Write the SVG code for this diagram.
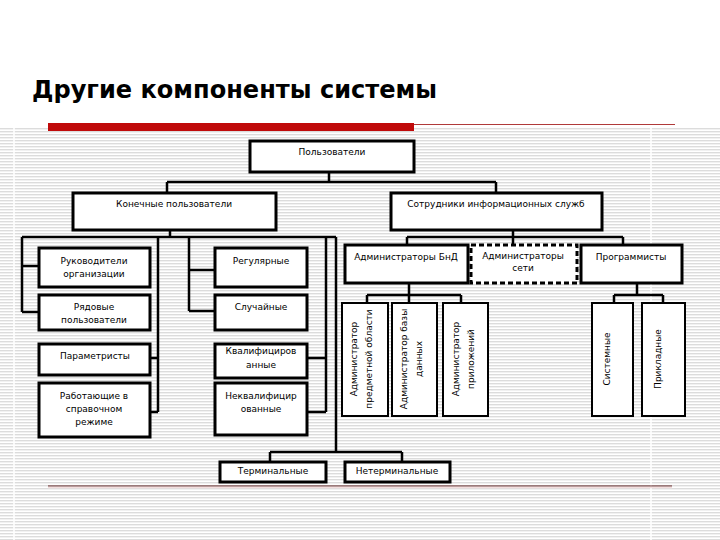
<svg xmlns="http://www.w3.org/2000/svg" width="720" height="540" viewBox="0 0 720 540">
<defs>
<pattern id="stripes" x="0" y="128" width="8" height="3" patternUnits="userSpaceOnUse">
<rect x="0" y="0" width="8" height="3" fill="#ffffff"/>
<rect x="0" y="0" width="8" height="1.4" fill="#dcdcdc"/>
</pattern>
<style>
.box{fill:#fff;stroke:#000;stroke-width:3}
.thin{fill:#fff;stroke:#000;stroke-width:2}
.dash{fill:#fff;stroke:#000;stroke-width:3;stroke-dasharray:5 3}
.lbl{font-family:"DejaVu Sans","Liberation Sans",sans-serif;font-size:9px;fill:#000;text-anchor:middle}
.conn{fill:none;stroke:#000;stroke-width:2.5}
</style>
</defs>
<rect x="0" y="0" width="720" height="540" fill="#fff"/>
<rect x="0" y="128" width="720" height="412" fill="url(#stripes)"/>
<line x1="14" y1="128" x2="14" y2="540" stroke="#fff" stroke-width="2" opacity="0.8"/>
<line x1="651" y1="128" x2="651" y2="540" stroke="#fff" stroke-width="2" opacity="0.8"/>
<text x="32" y="98" font-family="DejaVu Sans, Liberation Sans, sans-serif" font-weight="bold" font-size="24" textLength="405" lengthAdjust="spacingAndGlyphs" fill="#000">Другие компоненты системы</text>
<rect x="48" y="123" width="366" height="8" fill="#c00a0a"/>
<line x1="414" y1="124.5" x2="675" y2="124.5" stroke="#b03a3a" stroke-width="1"/>
<line x1="48" y1="486" x2="672" y2="486" stroke="#5a1818" stroke-width="1.2"/>
<line x1="48" y1="487.5" x2="672" y2="487.5" stroke="#f3dede" stroke-width="1.5"/>

<g id="connectors" class="conn">
<path d="M329,172 V182 M167,182 H496 M167,182 V193 M496,182 V193"/>
<path d="M170,230 V237 M22,237 H336 M22,237 V312 M22,266 H39 M22,312 H39"/>
<path d="M158,237 V412 M150,358 H158 M150,412 H158"/>
<path d="M189,237 V311 M189,270 H215 M189,311 H215"/>
<path d="M326,237 V412 M307,358 H326 M307,412 H326"/>
<path d="M336,237 V452 M270,452 H402 M270,452 V462 M402,452 V462"/>
<path d="M513,230 V245 M407,237 H623 M407,237 V245 M623,237 V245"/>
<path d="M409,283 V303 M367,295 H461 M367,295 V303 M461,295 V303"/>
<path d="M637,283 V295 M614,295 H663 M614,295 V303 M663,295 V303"/>
</g>

<g id="users"><rect class="box" x="250" y="141" width="164" height="31"/><text class="lbl" x="332" y="155">Пользователи</text></g>
<g id="end-users"><rect class="box" x="73" y="193" width="203" height="37"/><text class="lbl" x="174" y="207">Конечные пользователи</text></g>
<g id="is-staff"><rect class="box" x="391" y="193" width="211" height="37"/><text class="lbl" x="496" y="207">Сотрудники информационных служб</text></g>

<g id="managers"><rect class="box" x="39" y="248" width="111" height="39"/><text class="lbl" x="94" y="264">Руководители</text><text class="lbl" x="94" y="277">организации</text></g>
<g id="ordinary"><rect class="box" x="39" y="295" width="111" height="35"/><text class="lbl" x="94" y="310">Рядовые</text><text class="lbl" x="94" y="323">пользователи</text></g>
<g id="parametrists"><rect class="box" x="39" y="344" width="111" height="31"/><text class="lbl" x="95" y="359">Параметристы</text></g>
<g id="reference-mode"><rect class="box" x="39" y="383" width="111" height="54"/><text class="lbl" x="94" y="399">Работающие в</text><text class="lbl" x="94" y="412">справочном</text><text class="lbl" x="94" y="425">режиме</text></g>

<g id="regular"><rect class="box" x="215" y="248" width="92" height="39"/><text class="lbl" x="261" y="264">Регулярные</text></g>
<g id="casual"><rect class="box" x="215" y="295" width="92" height="35"/><text class="lbl" x="261" y="310">Случайные</text></g>
<g id="qualified"><rect class="box" x="215" y="344" width="92" height="34"/><text class="lbl" x="261" y="354">Квалифициров</text><text class="lbl" x="261" y="368">анные</text></g>
<g id="unqualified"><rect class="box" x="215" y="383" width="92" height="52"/><text class="lbl" x="261" y="399">Неквалифицир</text><text class="lbl" x="261" y="412">ованные</text></g>

<g id="terminal"><rect class="box" x="220" y="462" width="106" height="20"/><text class="lbl" x="273" y="474">Терминальные</text></g>
<g id="non-terminal"><rect class="box" x="345" y="462" width="105" height="20"/><text class="lbl" x="397" y="474">Нетерминальные</text></g>

<g id="dba"><rect class="box" x="345" y="245" width="123" height="38"/><text class="lbl" x="406" y="260">Администраторы БнД</text></g>
<g id="net-admins"><rect class="dash" x="471" y="245" width="106" height="38"/><text class="lbl" x="523" y="259">Администраторы</text><text class="lbl" x="523" y="271">сети</text></g>
<g id="programmers"><rect class="box" x="581" y="245" width="101" height="38"/><text class="lbl" x="631" y="260">Программисты</text></g>

<g id="domain-admin"><rect class="thin" x="342" y="303" width="46" height="113"/><text class="lbl" transform="translate(357,359) rotate(-90)">Администратор</text><text class="lbl" transform="translate(372,359) rotate(-90)">предметной области</text></g>
<g id="db-admin"><rect class="thin" x="392" y="303" width="45" height="113"/><text class="lbl" transform="translate(407,359) rotate(-90)">Администратор базы</text><text class="lbl" transform="translate(422,359) rotate(-90)">данных</text></g>
<g id="app-admin"><rect class="thin" x="443" y="303" width="45" height="113"/><text class="lbl" transform="translate(459,359) rotate(-90)">Администратор</text><text class="lbl" transform="translate(474,359) rotate(-90)">приложений</text></g>
<g id="system-prog"><rect class="thin" x="592" y="303" width="41" height="113"/><text class="lbl" transform="translate(610,359) rotate(-90)">Системные</text></g>
<g id="app-prog"><rect class="thin" x="642" y="303" width="43" height="113"/><text class="lbl" transform="translate(661,359) rotate(-90)">Прикладные</text></g>
</svg>
